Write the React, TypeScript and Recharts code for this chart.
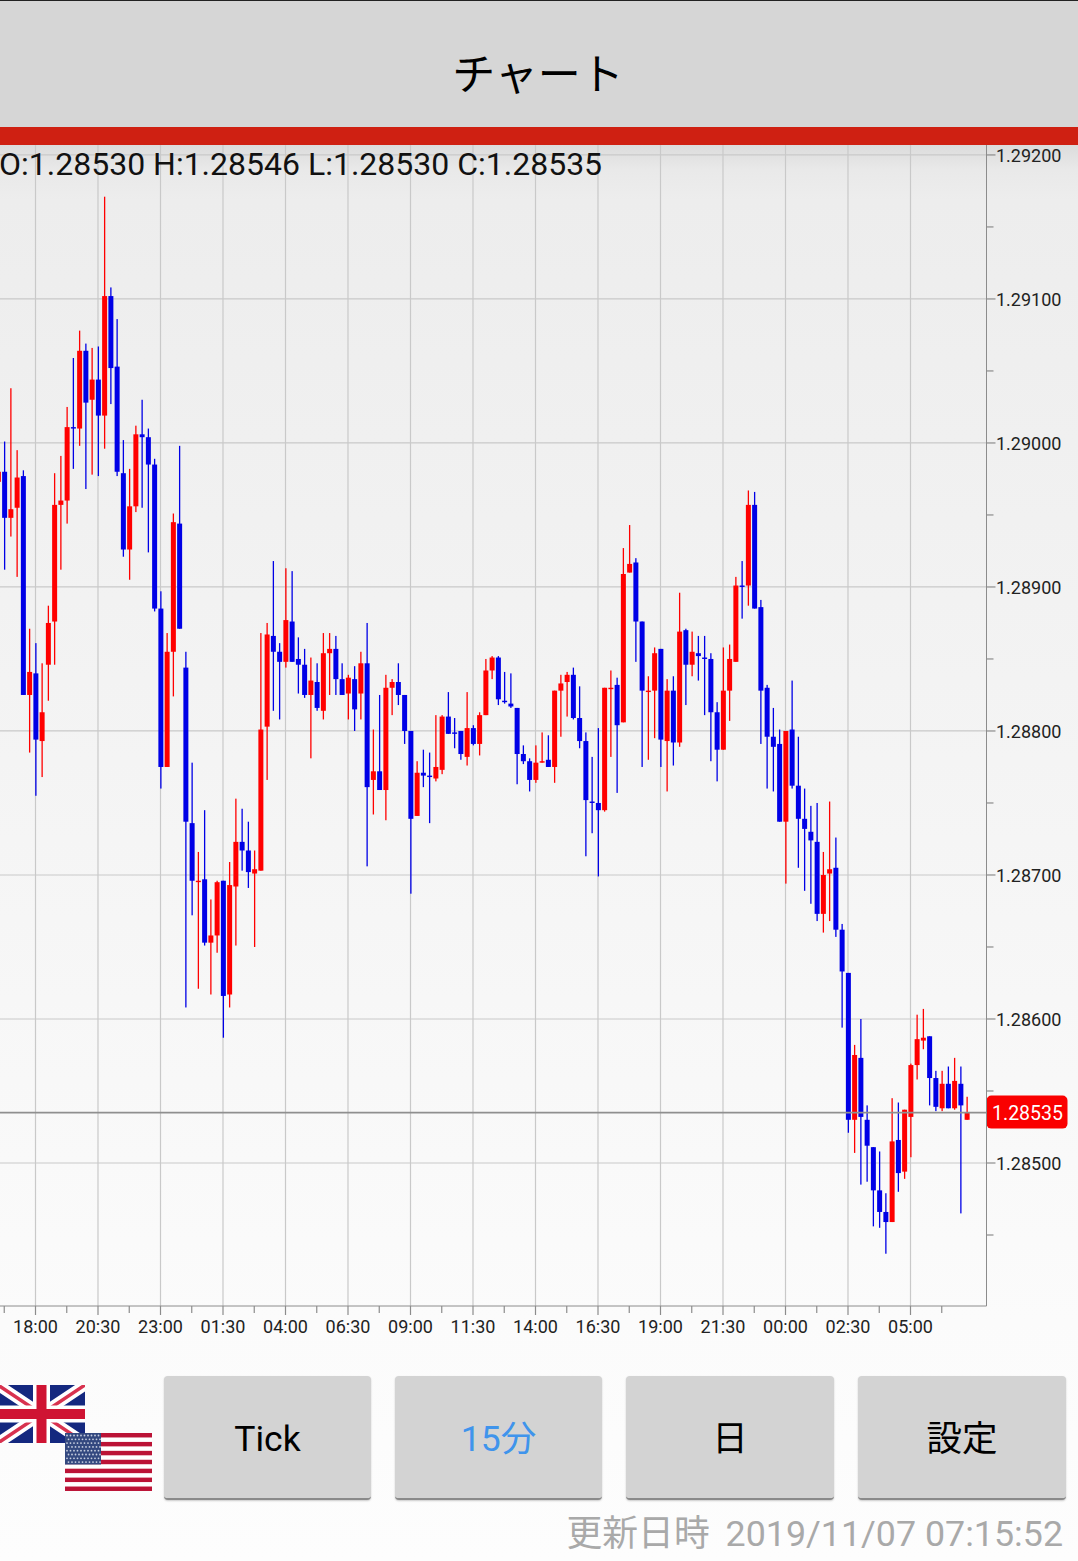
import { Bar, CartesianGrid, ComposedChart, ReferenceLine, XAxis, YAxis } from 'recharts';

// All prices are in 1e-5 units, 128973 means 1.28973
const opens = [
  128973, 128980, 128948, 128955, 128977, 128825, 128840, 128793, 128846, 128876, 128957, 128960, 129011, 129010, 129064, 129030,
  129044, 129019, 129102, 129053, 128979, 128926, 128956, 129006, 129004, 128985, 128885, 128775, 128855, 128944, 128844, 128736,
  128696, 128697, 128653, 128658, 128696, 128617, 128692, 128723, 128717, 128701, 128703, 128803, 128866, 128855, 128848, 128876,
  128850, 128846, 128825, 128834, 128814, 128854, 128857, 128836, 128826, 128836, 128826, 128847, 128766, 128772, 128759, 128830,
  128834, 128825, 128800, 128741, 128771, 128769, 128767, 128773, 128810, 128799, 128800, 128782, 128802, 128791, 128811, 128842,
  128851, 128821, 128819, 128816, 128784, 128779, 128766, 128778, 128780, 128775, 128828, 128834, 128839, 128809, 128793, 128751,
  128750, 128745, 128830, 128832, 128806, 128910, 128917, 128876, 128828, 128828, 128857, 128793, 128828, 128792, 128870, 128846,
  128854, 128851, 128850, 128813, 128787, 128828, 128848, 128901, 128901, 128957, 128886, 128830, 128796, 128791, 128737, 128801,
  128762, 128739, 128730, 128723, 128673, 128701, 128705, 128662, 128632, 128530, 128573, 128530, 128511, 128481, 128466, 128459,
  128516, 128494, 128532, 128568, 128585, 128588, 128559, 128538, 128555, 128538, 128555, 128530,
];
const closes = [
  128980, 128948, 128954, 128976, 128825, 128841, 128794, 128813, 128875, 128957, 128960, 129011, 129010, 129064, 129028, 129044,
  129019, 129102, 129052, 128980, 128926, 128956, 129006, 129004, 128985, 128885, 128775, 128855, 128945, 128871, 128737, 128696,
  128696, 128653, 128658, 128695, 128616, 128693, 128723, 128717, 128702, 128704, 128801, 128867, 128855, 128848, 128877, 128848,
  128846, 128825, 128835, 128816, 128854, 128857, 128836, 128825, 128837, 128815, 128847, 128761, 128772, 128759, 128830, 128834,
  128825, 128800, 128739, 128771, 128769, 128768, 128775, 128810, 128798, 128798, 128784, 128802, 128791, 128811, 128842, 128851,
  128822, 128820, 128817, 128784, 128779, 128766, 128778, 128779, 128775, 128828, 128833, 128839, 128809, 128793, 128752, 128750,
  128745, 128830, 128830, 128804, 128909, 128916, 128876, 128828, 128828, 128854, 128794, 128828, 128792, 128869, 128846, 128855,
  128852, 128850, 128813, 128787, 128828, 128850, 128901, 128900, 128957, 128885, 128828, 128796, 128789, 128737, 128800, 128762,
  128739, 128732, 128724, 128673, 128700, 128704, 128662, 128633, 128530, 128575, 128532, 128512, 128481, 128466, 128459, 128515,
  128493, 128537, 128568, 128586, 128587, 128559, 128539, 128555, 128538, 128557, 128540, 128535,
];
const highs = [
  128980, 129001, 129038, 128995, 128981, 128871, 128861, 128847, 128887, 128979, 128991, 129025, 129059, 129078, 129069, 129066,
  129067, 129171, 129108, 129086, 129002, 128982, 129012, 129030, 129010, 128989, 128897, 128868, 128951, 128998, 128855, 128778,
  128716, 128745, 128683, 128696, 128696, 128709, 128753, 128746, 128737, 128717, 128868, 128875, 128918, 128861, 128913, 128911,
  128865, 128857, 128851, 128847, 128868, 128868, 128866, 128847, 128839, 128845, 128855, 128875, 128801, 128825, 128839, 128836,
  128847, 128825, 128800, 128779, 128787, 128785, 128811, 128811, 128827, 128809, 128800, 128827, 128804, 128813, 128850, 128852,
  128852, 128841, 128840, 128816, 128790, 128781, 128790, 128799, 128797, 128828, 128839, 128841, 128844, 128831, 128799, 128782,
  128802, 128830, 128842, 128837, 128927, 128943, 128920, 128876, 128838, 128858, 128857, 128836, 128838, 128896, 128871, 128869,
  128866, 128866, 128854, 128820, 128858, 128860, 128907, 128918, 128967, 128966, 128891, 128832, 128816, 128801, 128800, 128835,
  128796, 128760, 128748, 128750, 128716, 128751, 128726, 128666, 128632, 128582, 128600, 128540, 128511, 128508, 128479, 128545,
  128542, 128537, 128569, 128603, 128607, 128588, 128564, 128564, 128567, 128573, 128567, 128546,
];
const lows = [
  128973, 128912, 128935, 128907, 128825, 128785, 128755, 128768, 128821, 128846, 128912, 128944, 128982, 128998, 128968, 128978,
  128977, 128996, 129027, 128977, 128921, 128905, 128952, 128955, 128924, 128883, 128760, 128775, 128824, 128871, 128608, 128672,
  128621, 128651, 128617, 128646, 128587, 128608, 128651, 128703, 128691, 128650, 128703, 128766, 128814, 128808, 128844, 128848,
  128826, 128823, 128781, 128814, 128808, 128825, 128825, 128825, 128808, 128800, 128808, 128706, 128742, 128759, 128738, 128811,
  128818, 128791, 128687, 128741, 128761, 128736, 128765, 128770, 128798, 128788, 128780, 128776, 128790, 128783, 128811, 128836,
  128818, 128819, 128816, 128763, 128777, 128758, 128764, 128778, 128775, 128764, 128796, 128810, 128808, 128788, 128713, 128729,
  128699, 128744, 128782, 128757, 128806, 128910, 128848, 128775, 128780, 128795, 128775, 128758, 128776, 128789, 128818, 128838,
  128835, 128811, 128779, 128765, 128787, 128807, 128848, 128878, 128887, 128885, 128791, 128760, 128758, 128737, 128694, 128760,
  128705, 128689, 128680, 128668, 128660, 128668, 128657, 128594, 128521, 128507, 128485, 128487, 128456, 128455, 128437, 128459,
  128480, 128489, 128504, 128558, 128579, 128540, 128536, 128536, 128538, 128537, 128465, 128530,
];

// one label every 10 candles, one tick every 5
const timeLabels = ['18:00', '20:30', '23:00', '01:30', '04:00', '06:30', '09:00', '11:30', '14:00', '16:30', '19:00', '21:30', '00:00', '02:30', '05:00'];
const labelPositions = [6, 16, 26, 36, 46, 56, 66, 76, 86, 96, 106, 116, 126, 136, 146];
const xTicks = [1, 6, 11, 16, 21, 26, 31, 36, 41, 46, 51, 56, 61, 66, 71, 76, 81, 86, 91, 96, 101, 106, 111, 116, 121, 126, 131, 136, 141, 146, 151];
const yTicks = [128450, 128500, 128550, 128600, 128650, 128700, 128750, 128800, 128850, 128900, 128950, 129000, 129050, 129100, 129150, 129200];
const yGrid = [128500, 128600, 128700, 128800, 128900, 129000, 129100, 129200];
const lastPrice = 128535;

const buttons = [
  { label: 'Tick', left: 164, width: 207, color: '#000' },
  { label: '15分', left: 395, width: 207, color: '#3f94ec' },
  { label: '日', left: 626, width: 208, color: '#000' },
  { label: '設定', left: 858, width: 208, color: '#000' },
];

const chartData = opens.map((open, i) => ({
  i,
  open,
  close: closes[i],
  high: highs[i],
  low: lows[i],
  range: [lows[i], highs[i]],
}));

const UP = '#ff0000';
const DOWN = '#0000e6';
const AXIS = '#8c8c8c';
const GRID = '#c9c9c9';
const JP = 'Roboto, "Noto Sans CJK JP", sans-serif';

function fmt(v: number) {
  return (v / 100000).toFixed(5);
}

function Candle(props: any) {
  const { x, y, width, height, payload } = props;
  const { open, close, high, low } = payload;
  const color = close >= open ? UP : DOWN;
  const cx = x + width / 2;
  // bar spans low..high, so the body can be placed along the same linear scale
  const perUnit = height / (high - low);
  const top = y + (high - Math.max(open, close)) * perUnit;
  const bodyH = Math.max(Math.abs(open - close) * perUnit, 1.4);
  return (
    <g>
      <rect x={cx - 0.65} y={y} width={1.3} height={height} fill={color} />
      <rect x={cx - 2.5} y={top} width={5} height={bodyH} fill={color} />
    </g>
  );
}

function TimeTick(props: any) {
  const { x, y, payload } = props;
  const at = labelPositions.indexOf(payload.value);
  return (
    <g>
      <line x1={x} x2={x} y1={y} y2={y + (at >= 0 ? 9 : 7)} stroke={AXIS} strokeWidth={1.2} />
      {at >= 0 && (
        <text x={x} y={y + 27} textAnchor="middle" fontFamily="Roboto" fontSize={18} fill="#222">
          {timeLabels[at]}
        </text>
      )}
    </g>
  );
}

function PriceTick(props: any) {
  const { x, y, payload } = props;
  const major = yGrid.includes(payload.value);
  return (
    <g>
      <line x1={x} x2={x + (major ? 9 : 7)} y1={y} y2={y} stroke={AXIS} strokeWidth={1.2} />
      {major && (
        <text x={x + 9.5} y={y + 7.5} fontFamily="Roboto" fontSize={18} fill="#222">
          {fmt(payload.value)}
        </text>
      )}
    </g>
  );
}

function LastPrice(props: any) {
  const { x1, x2, y1 } = props;
  const right = Math.max(x1, x2);
  return (
    <g>
      <line x1={0} x2={right} y1={y1} y2={y1} stroke="#8f8f8f" strokeWidth={1.8} />
      <rect x={right} y={y1 - 17} width={81} height={33} rx={5} fill="#fa0000" />
      <text x={right + 41} y={y1 + 7} textAnchor="middle" fontFamily="Roboto" fontSize={19.5} fill="#fff">
        {fmt(lastPrice)}
      </text>
    </g>
  );
}

function UkFlag() {
  return (
    <svg style={{ position: 'absolute', left: -2, top: 1385 }} width={87} height={58} viewBox="0 0 87 58">
      <rect width={87} height={58} fill="#14287f" />
      <path d="M0 0L87 58M87 0L0 58" stroke="#fff" strokeWidth={11} />
      <path d="M0 0L87 58M87 0L0 58" stroke="#d8324f" strokeWidth={3.5} />
      <path d="M43.5 0V58M0 29H87" stroke="#fff" strokeWidth={17} />
      <path d="M43.5 0V58M0 29H87" stroke="#cf1433" strokeWidth={10} />
    </svg>
  );
}

function UsFlag() {
  const stripes = [0, 1, 2, 3, 4, 5, 6];
  const rows = [0, 1, 2, 3, 4, 5, 6, 7];
  const cols = [0, 1, 2, 3, 4, 5, 6, 7, 8, 9];
  return (
    <svg style={{ position: 'absolute', left: 65, top: 1433 }} width={87} height={58} viewBox="0 0 87 58">
      <rect width={87} height={58} fill="#fff" />
      {stripes.map(s => <rect key={s} y={s * 8.92} width={87} height={4.46} fill="#bb1336" />)}
      <rect width={36} height={31.5} fill="#33487f" />
      {rows.map(r => cols.map(c => (
        <circle key={`${r}-${c}`} cx={2 + c * 3.5 + (r % 2) * 1.5} cy={2.5 + r * 3.8} r={0.9} fill="#c8cfe0" />
      )))}
    </svg>
  );
}

export default function App() {
  return (
    <div
      style={{
        position: 'absolute',
        left: 0,
        top: 0,
        width: 1078,
        height: 1561,
        overflow: 'hidden',
        background: 'linear-gradient(180deg, #dcdcdc 145px, #e9e9e9 170px, #ededed 200px, #fbfbfb 1320px, #fdfdfd 1561px)',
      }}
    >
      <div style={{ position: 'absolute', left: 0, top: 0, width: 1078, height: 127, background: '#d6d6d6', borderTop: '1px solid #222', boxSizing: 'border-box' }} />
      <div style={{ position: 'absolute', left: 0, top: 127, width: 1078, height: 18, background: '#cf2012' }} />
      <div style={{ position: 'absolute', left: -1, top: 41, width: 1078, textAlign: 'center', fontFamily: '"Noto Sans CJK JP"', fontSize: 43, lineHeight: '60px', color: '#000' }}>チャート</div>

      <div style={{ position: 'absolute', left: 0, top: 145 }}>
        <ComposedChart width={1078} height={1215} data={chartData} margin={{ top: 0, right: 0, bottom: 0, left: 0 }}>
          <CartesianGrid stroke={GRID} strokeWidth={1.2} horizontalValues={yGrid} verticalValues={labelPositions} />
          <XAxis
            dataKey="i"
            type="number"
            domain={[0.32, 158.16]}
            allowDataOverflow
            ticks={xTicks}
            interval={0}
            height={54}
            stroke={AXIS}
            tickSize={0}
            tickMargin={0}
            tick={<TimeTick />}
          />
          <YAxis
            orientation="right"
            width={91.5}
            domain={[128400.7, 129206.9]}
            allowDataOverflow
            ticks={yTicks}
            interval={0}
            stroke={AXIS}
            tickSize={0}
            tickMargin={0}
            tick={<PriceTick />}
          />
          <Bar dataKey="range" barSize={5} shape={<Candle />} isAnimationActive={false} />
          <ReferenceLine y={lastPrice} shape={<LastPrice />} />
        </ComposedChart>
      </div>

      <div style={{ position: 'absolute', left: -1, top: 143, fontFamily: 'Roboto', fontSize: 32, lineHeight: '42px', color: '#111', whiteSpace: 'nowrap' }}>
        O:1.28530 H:1.28546 L:1.28530 C:1.28535
      </div>

      <UkFlag />
      <UsFlag />

      {buttons.map(b => (
        <div
          key={b.label}
          style={{
            position: 'absolute',
            left: b.left,
            top: 1376,
            width: b.width,
            height: 124,
            boxSizing: 'border-box',
            paddingTop: 4,
            background: '#d3d3d3',
            borderRadius: 4,
            borderBottom: '2px solid #8a8a8a',
            boxShadow: '0 1px 2px rgba(0,0,0,0.2)',
            display: 'flex',
            alignItems: 'center',
            justifyContent: 'center',
            fontFamily: JP,
            fontSize: 35.5,
            lineHeight: '40px',
            color: b.color,
          }}
        >
          {b.label}
        </div>
      ))}

      <div style={{ position: 'absolute', right: 15, top: 1509, fontFamily: JP, fontSize: 35.8, lineHeight: '50px', color: '#a9a9a9', whiteSpace: 'nowrap' }}>
        <span style={{ marginRight: 7 }}>更新日時</span> 2019/11/07 07:15:52
      </div>
    </div>
  );
}
